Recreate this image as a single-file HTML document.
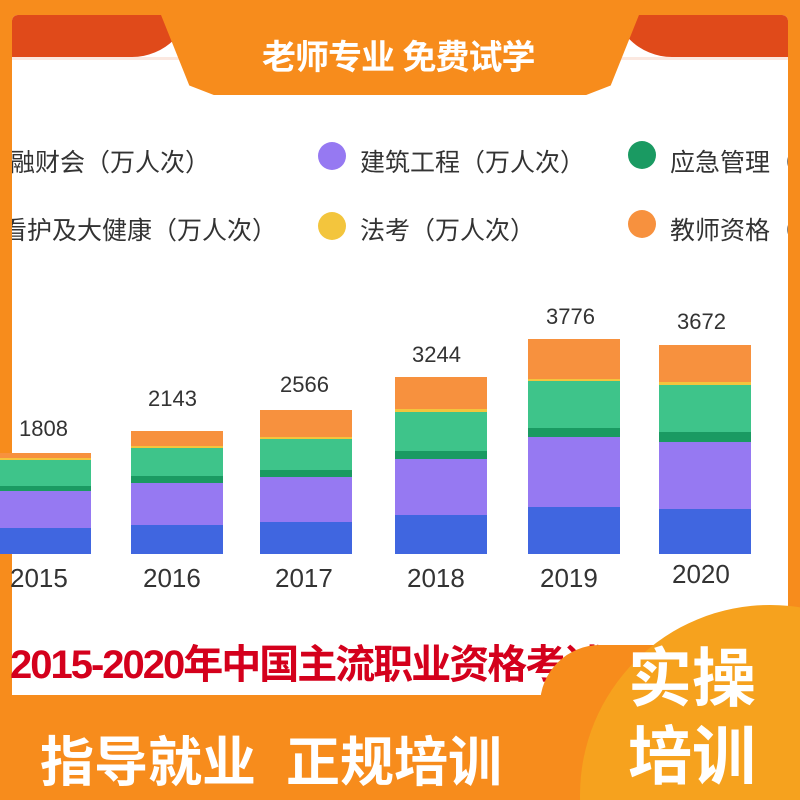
<!DOCTYPE html>
<html style="width:800px;height:800px;overflow:hidden"><head><meta charset="utf-8"><style>
body{margin:0;width:800px;height:800px;overflow:hidden;background:#f78c1c;position:relative;font-family:"Liberation Sans","Noto Sans CJK SC",sans-serif}
.panel{position:absolute;left:12px;top:15px;width:776px;height:680px;background:#fff;border-radius:6px 6px 0 0;overflow:hidden}
.t{position:absolute;white-space:nowrap}
.dot{position:absolute;width:28px;height:28px;border-radius:50%}
.bar{position:absolute;width:92px}
.bar div{width:100%}
</style></head><body>
<div class="panel">
 <div style="position:absolute;left:-20px;top:-20px;width:200px;height:62px;background:#e04a1a;border-radius:0 0 60px 0"></div>
 <div style="position:absolute;left:600px;top:-20px;width:200px;height:62px;background:#e04a1a;border-radius:0 0 0 60px"></div>
 <div style="position:absolute;left:0;top:42px;width:776px;height:3px;background:#fbe8e0"></div>
 <div class="t" style="left:-2px;top:128px;font-size:25px;color:#333">融财会（万人次）</div>
 <div class="t" style="left:-10px;top:196px;font-size:25px;color:#333">看护及大健康（万人次）</div>
 <div class="dot" style="left:306px;top:127px;background:#9679f2"></div>
 <div class="t" style="left:348px;top:128px;font-size:25px;color:#333">建筑工程（万人次）</div>
 <div class="dot" style="left:306px;top:197px;background:#f3c53d"></div>
 <div class="t" style="left:348px;top:196px;font-size:25px;color:#333">法考（万人次）</div>
 <div class="dot" style="left:616px;top:126px;background:#1a9a62"></div>
 <div class="t" style="left:658px;top:128px;font-size:25px;color:#333">应急管理（</div>
 <div class="dot" style="left:616px;top:195px;background:#f7913e"></div>
 <div class="t" style="left:658px;top:196px;font-size:25px;color:#333">教师资格（</div>
</div>
<div style="position:absolute;left:155px;top:0;width:490px;height:95px;background:#f78c1c;clip-path:polygon(0 0,100% 0,93% 90%,88% 100%,12% 100%,7% 90%)"></div>
<div class="t" style="left:262px;top:30px;font-size:34px;font-weight:bold;color:#fff;letter-spacing:-1px">老师专业 免费试学</div>

<div class="bar" style="left:-1px;top:453px"><div style="height:5px;background:#f7913e"></div><div style="height:2px;background:#f3c53d"></div><div style="height:26px;background:#3ec48a"></div><div style="height:5px;background:#1a9a62"></div><div style="height:37px;background:#9679f2"></div><div style="height:26px;background:#4066e0"></div></div>
<div class="bar" style="left:131px;top:431px"><div style="height:15px;background:#f7913e"></div><div style="height:2px;background:#f3c53d"></div><div style="height:28px;background:#3ec48a"></div><div style="height:7px;background:#1a9a62"></div><div style="height:42px;background:#9679f2"></div><div style="height:29px;background:#4066e0"></div></div>
<div class="bar" style="left:260px;top:410px"><div style="height:27px;background:#f7913e"></div><div style="height:2px;background:#f3c53d"></div><div style="height:31px;background:#3ec48a"></div><div style="height:7px;background:#1a9a62"></div><div style="height:45px;background:#9679f2"></div><div style="height:32px;background:#4066e0"></div></div>
<div class="bar" style="left:395px;top:377px"><div style="height:32px;background:#f7913e"></div><div style="height:3px;background:#f3c53d"></div><div style="height:39px;background:#3ec48a"></div><div style="height:8px;background:#1a9a62"></div><div style="height:56px;background:#9679f2"></div><div style="height:39px;background:#4066e0"></div></div>
<div class="bar" style="left:528px;top:339px"><div style="height:40px;background:#f7913e"></div><div style="height:2px;background:#f3c53d"></div><div style="height:47px;background:#3ec48a"></div><div style="height:9px;background:#1a9a62"></div><div style="height:70px;background:#9679f2"></div><div style="height:47px;background:#4066e0"></div></div>
<div class="bar" style="left:659px;top:345px"><div style="height:37px;background:#f7913e"></div><div style="height:3px;background:#f3c53d"></div><div style="height:47px;background:#3ec48a"></div><div style="height:10px;background:#1a9a62"></div><div style="height:67px;background:#9679f2"></div><div style="height:45px;background:#4066e0"></div></div>

<div class="t" style="left:19px;top:416px;font-size:22px;color:#333">1808</div>
<div class="t" style="left:148px;top:386px;font-size:22px;color:#333">2143</div>
<div class="t" style="left:280px;top:372px;font-size:22px;color:#333">2566</div>
<div class="t" style="left:412px;top:342px;font-size:22px;color:#333">3244</div>
<div class="t" style="left:546px;top:304px;font-size:22px;color:#333">3776</div>
<div class="t" style="left:677px;top:309px;font-size:22px;color:#333">3672</div>

<div class="t" style="left:10px;top:563px;font-size:26px;color:#333">2015</div>
<div class="t" style="left:143px;top:563px;font-size:26px;color:#333">2016</div>
<div class="t" style="left:275px;top:563px;font-size:26px;color:#333">2017</div>
<div class="t" style="left:407px;top:563px;font-size:26px;color:#333">2018</div>
<div class="t" style="left:540px;top:563px;font-size:26px;color:#333">2019</div>
<div class="t" style="left:672px;top:559px;font-size:26px;color:#333">2020</div>

<div class="t" style="left:10px;top:632px;font-size:40px;font-weight:bold;color:#d4001c;letter-spacing:-2px">2015-2020年中国主流职业资格考试</div>

<div style="position:absolute;left:0;top:0;width:800px;height:800px;overflow:hidden">
<div style="position:absolute;left:540px;top:645px;width:160px;height:60px;background:#f78c1c;border-radius:80px 0 0 0"></div>
<div style="position:absolute;left:580px;top:605px;width:380px;height:380px;border-radius:50%;background:#f6a21e"></div>
</div>
<div class="t" style="left:628px;top:640px;font-size:64px;font-weight:bold;color:#fff;line-height:78px">实操<br>培训</div>
<div class="t" style="left:40px;top:718px;font-size:54px;font-weight:bold;color:#fff">指导就业&nbsp;&nbsp;正规培训</div>
</body></html>
